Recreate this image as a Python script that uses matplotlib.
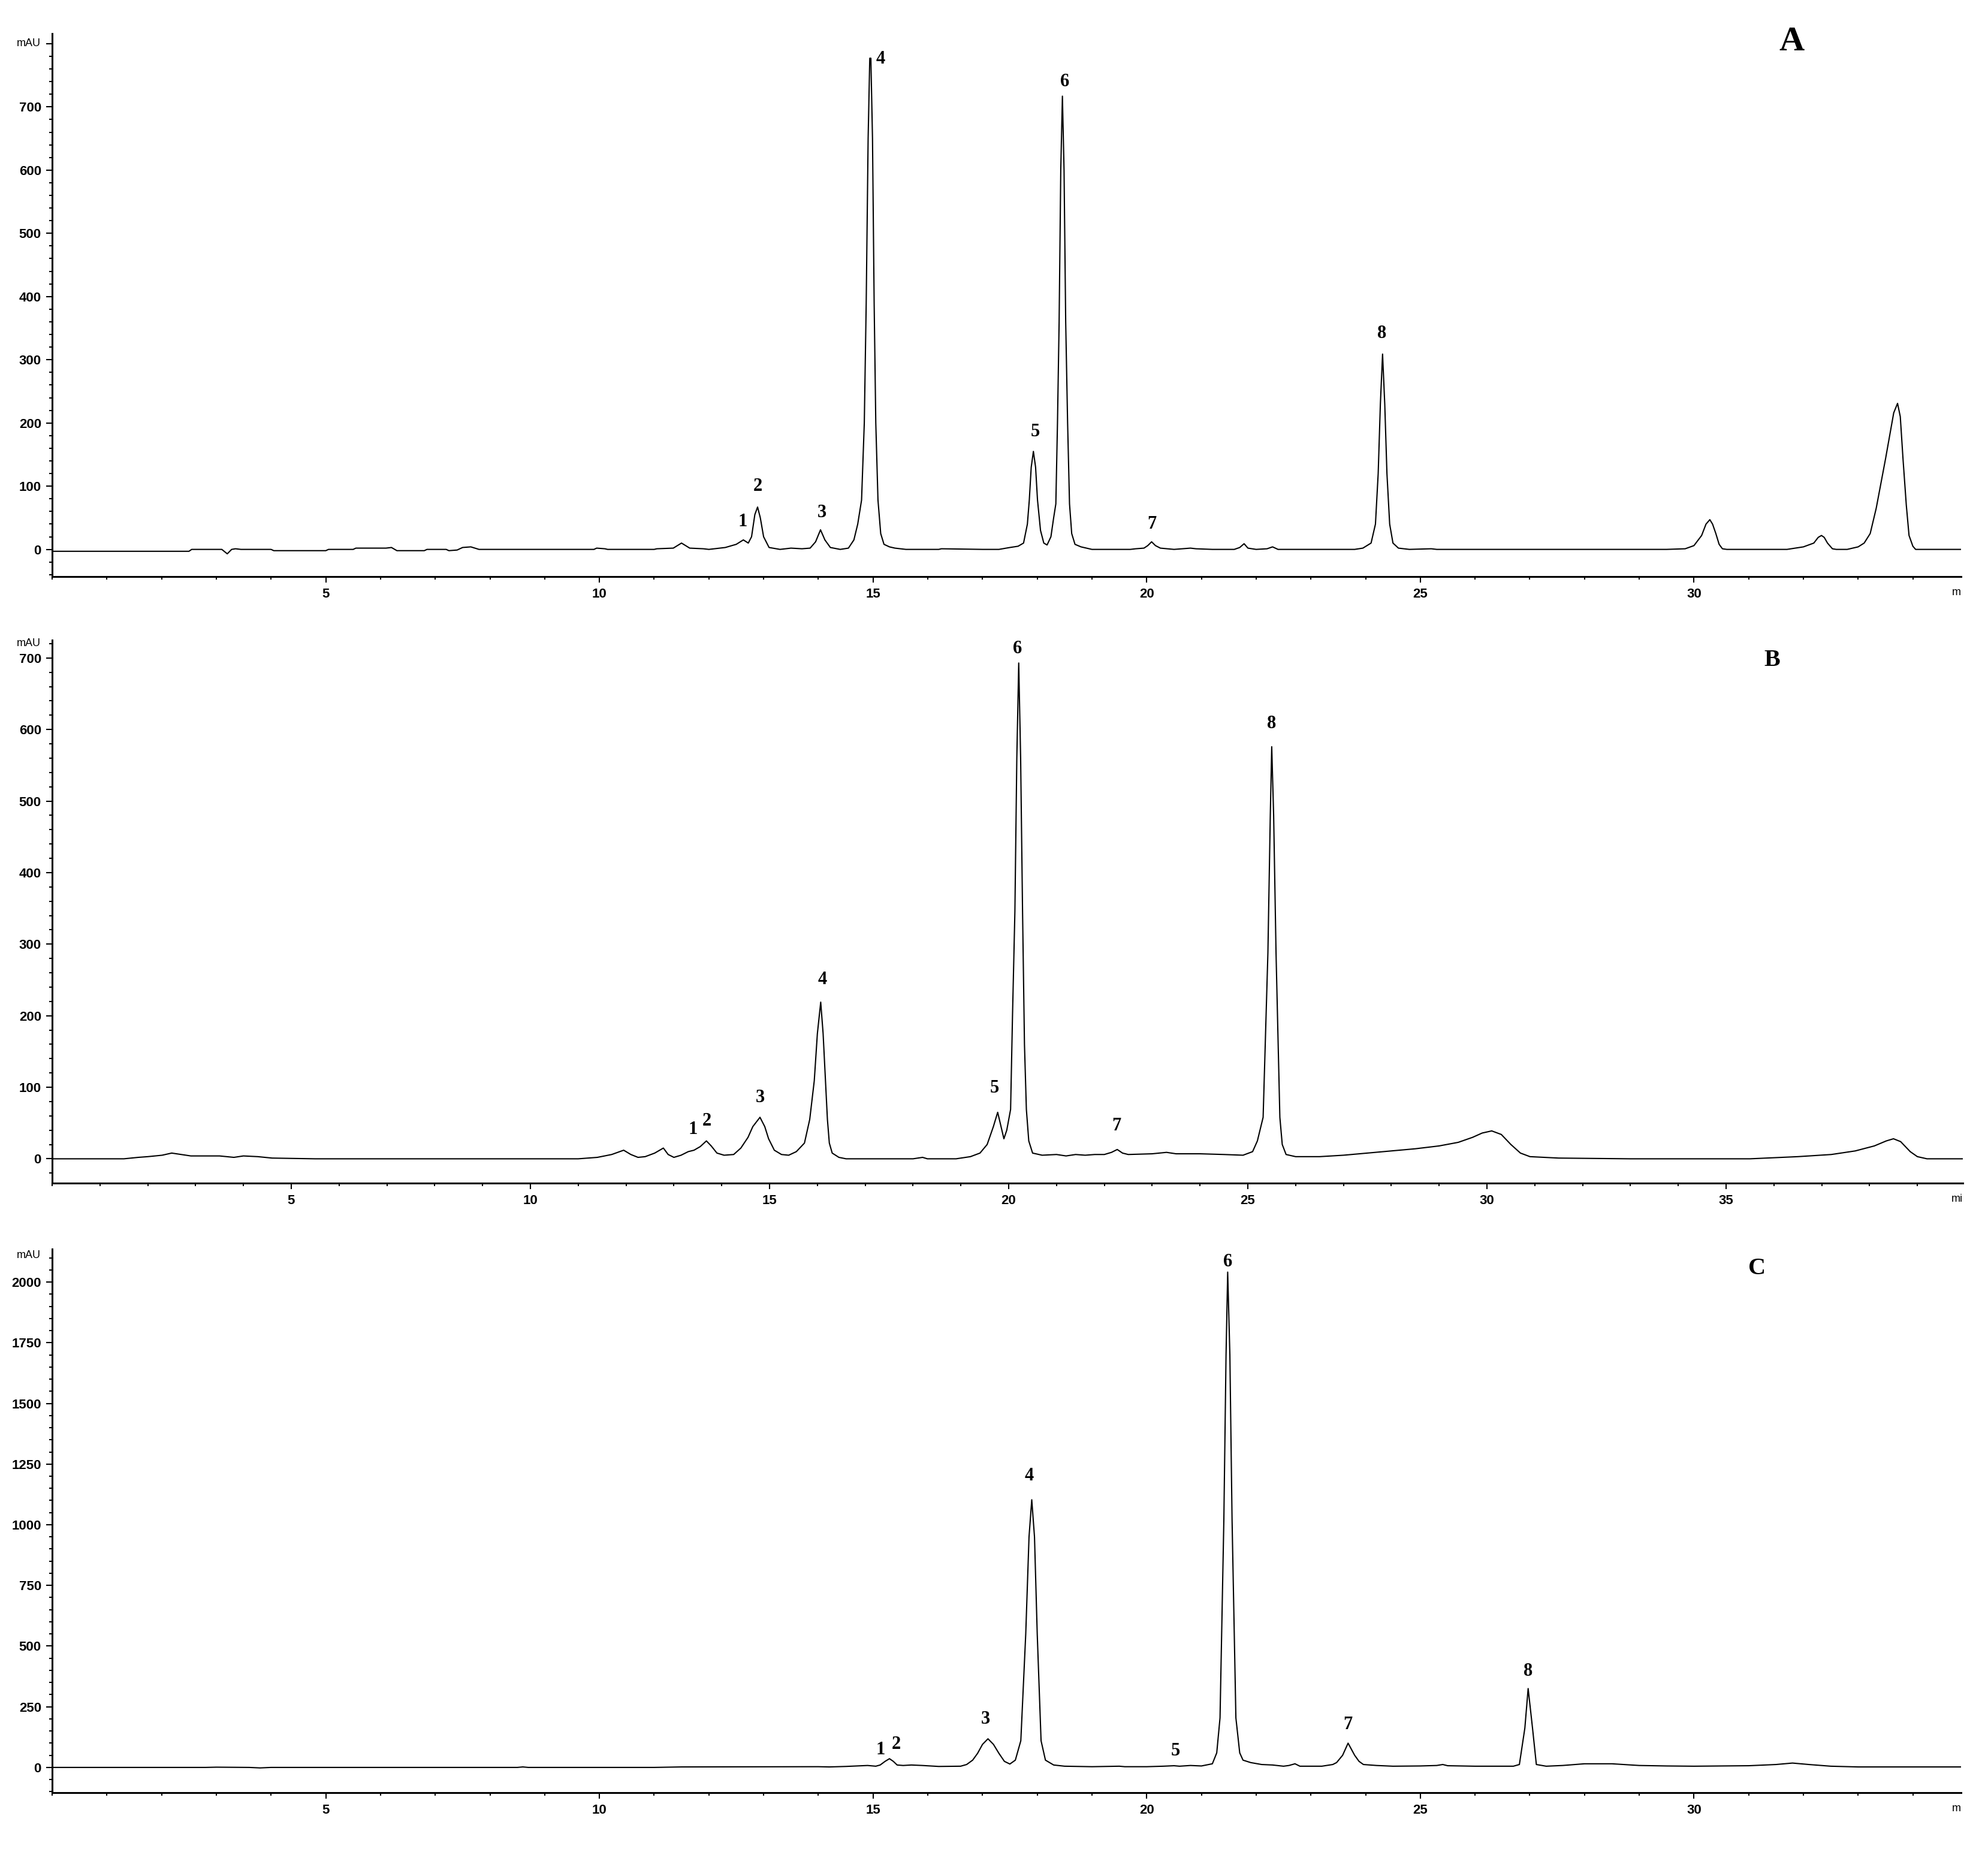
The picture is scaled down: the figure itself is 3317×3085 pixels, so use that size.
import matplotlib
matplotlib.use("Agg")
import matplotlib.pyplot as plt
from matplotlib.ticker import MultipleLocator

# chromatogram A: retention time (min) and absorbance (mAU)
time_a = [0.0, 2.5, 2.55, 3.1, 3.2, 3.28, 3.35, 3.45, 4.0, 4.05, 5.0, 5.05, 5.5, 5.55, 6.1, 6.2, 6.3,
          6.8, 6.85, 7.2, 7.25, 7.4, 7.5, 7.65, 7.8, 9.9, 9.95, 10.1, 10.15, 11.0, 11.05, 11.35, 11.5,
          11.65, 11.9, 12.0, 12.1, 12.3, 12.5, 12.63, 12.72, 12.78, 12.84, 12.89, 12.94, 13.0, 13.1,
          13.3, 13.5, 13.7, 13.85, 13.95, 14.04, 14.12, 14.22, 14.4, 14.55, 14.65, 14.72, 14.79, 14.84,
          14.875, 14.91, 14.94, 14.96, 14.99, 15.02, 15.05, 15.09, 15.14, 15.2, 15.3, 15.4, 15.6, 16.2,
          16.25, 17.0, 17.3, 17.5, 17.65, 17.75, 17.82, 17.855, 17.89, 17.93, 17.97, 18.005, 18.06,
          18.12, 18.18, 18.25, 18.3, 18.34, 18.37, 18.40, 18.43, 18.46, 18.49, 18.52, 18.555, 18.59,
          18.63, 18.69, 18.8, 19.0, 19.7, 19.8, 19.95, 20.02, 20.09, 20.16, 20.25, 20.5, 20.8, 20.9,
          21.2, 21.6, 21.7, 21.78, 21.85, 22.0, 22.2, 22.3, 22.4, 23.8, 23.95, 24.1, 24.18, 24.23,
          24.27, 24.31, 24.35, 24.39, 24.44, 24.5, 24.6, 24.8, 25.2, 25.3, 29.5, 29.84, 30.0, 30.14,
          30.22, 30.29, 30.34, 30.4, 30.46, 30.52, 30.6, 31.7, 32.0, 32.19, 32.27, 32.33, 32.38, 32.44,
          32.53, 32.6, 32.8, 33.0, 33.11, 33.22, 33.33, 33.5, 33.65, 33.72, 33.77, 33.82, 33.88, 33.93,
          34.0, 34.05, 34.88]
signal_a = [-3, -3, 0, 0, -7, 0, 1, 0, 0, -2, -2, 0, 0, 2, 2, 3, -2,
            -2, 0, 0, -2, -1, 3, 4, 0, 0, 2, 1, 0, 0, 1, 2, 10,
            2, 1, 0, 1, 3, 8, 15, 10, 20, 55, 67, 50, 20, 3,
            0, 2, 1, 2, 12, 31, 15, 3, 0, 2, 15, 40, 78, 200,
            390, 650, 777, 777, 650, 390, 200, 78, 25, 8, 4, 2, 0, 0,
            1, 0, 0, 3, 5, 10, 40, 78, 130, 155, 130, 78, 30,
            10, 7, 20, 50, 72, 200, 360, 600, 717, 600, 360, 200, 72,
            25, 8, 4, 0, 0, 1, 2, 6, 12, 6, 2, 0, 2, 1,
            0, 0, 3, 9, 2, 0, 1, 4, 0, 0, 2, 10, 40, 120,
            230, 309, 230, 120, 40, 10, 2, 0, 1, 0, 0, 1, 6, 22,
            40, 47, 40, 25, 8, 1, 0, 0, 4, 10, 19, 22, 19, 10,
            1, 0, 0, 4, 10, 25, 65, 143, 216, 231, 210, 143, 70, 22,
            5, 0, 0]

# chromatogram B
time_b = [0.0, 1.5, 1.8, 2.0, 2.3, 2.5, 2.7, 2.9, 3.5, 3.8, 4.0, 4.3, 4.6, 5.5, 11.0, 11.4, 11.7,
          11.95, 12.1, 12.25, 12.4, 12.6, 12.78, 12.88, 13.0, 13.15, 13.3, 13.42, 13.55, 13.68, 13.78,
          13.9, 14.05, 14.25, 14.4, 14.55, 14.65, 14.8, 14.9, 14.98, 15.1, 15.25, 15.4, 15.56, 15.73,
          15.84, 15.935, 16.0, 16.07, 16.12, 16.17, 16.21, 16.25, 16.31, 16.45, 16.6, 18.0, 18.2, 18.3,
          18.9, 19.2, 19.4, 19.55, 19.68, 19.77, 19.84, 19.9, 19.96, 20.04, 20.08, 20.13, 20.17, 20.21,
          20.25, 20.29, 20.33, 20.37, 20.42, 20.5, 20.7, 21.0, 21.2, 21.4, 21.6, 21.8, 22.0, 22.15,
          22.27, 22.38, 22.5, 23.0, 23.3, 23.5, 24.0, 24.5, 24.9, 25.1, 25.2, 25.32, 25.42, 25.47,
          25.5, 25.54, 25.59, 25.67, 25.72, 25.8, 26.0, 26.5, 27.0, 27.5, 28.0, 28.5, 29.0, 29.4,
          29.7, 29.9, 30.1, 30.3, 30.5, 30.7, 30.9, 31.5, 33.0, 35.5, 36.5, 37.2, 37.7, 38.1, 38.35,
          38.5, 38.65, 38.85, 39.0, 39.2, 39.95]
signal_b = [0, 0, 2, 3, 5, 8, 6, 4, 4, 2, 4, 3, 1, 0, 0, 2, 6,
            12, 6, 2, 3, 8, 15, 6, 2, 5, 10, 12, 17, 25, 18,
            8, 5, 6, 15, 30, 45, 58, 45, 28, 12, 6, 5, 10, 22,
            55, 109, 175, 219, 175, 109, 55, 22, 8, 2, 0, 0, 2, 0,
            0, 3, 8, 20, 45, 65, 45, 28, 40, 69, 200, 346, 560, 693,
            560, 346, 160, 69, 25, 8, 5, 6, 4, 6, 5, 6, 6, 9,
            13, 8, 6, 7, 9, 7, 7, 6, 5, 10, 25, 58, 288, 480,
            576, 480, 288, 58, 20, 6, 3, 3, 5, 8, 11, 14, 18, 23,
            30, 36, 39, 34, 20, 8, 3, 1, 0, 0, 3, 6, 11, 18, 25,
            28, 24, 10, 3, 0, 0]

# chromatogram C
time_c = [0.0, 2.8, 3.0, 3.6, 3.8, 4.0, 8.5, 8.6, 8.7, 11.0, 11.5, 14.0, 14.2, 14.5, 14.7, 14.9,
          15.05, 15.13, 15.22, 15.3, 15.37, 15.44, 15.55, 15.7, 15.9, 16.2, 16.6, 16.71, 16.82, 16.91,
          17.0, 17.1, 17.2, 17.3, 17.4, 17.5, 17.6, 17.7, 17.79, 17.85, 17.9, 17.95, 18.0, 18.07,
          18.15, 18.3, 18.5, 19.0, 19.5, 19.6, 20.0, 20.3, 20.5, 20.6, 20.8, 21.0, 21.2, 21.28, 21.34,
          21.41, 21.45, 21.48, 21.52, 21.56, 21.63, 21.7, 21.76, 21.9, 22.1, 22.3, 22.5, 22.6, 22.71,
          22.8, 23.2, 23.4, 23.47, 23.58, 23.68, 23.8, 23.88, 23.96, 24.2, 24.5, 25.0, 25.3, 25.41,
          25.5, 26.0, 26.7, 26.81, 26.91, 26.97, 27.05, 27.12, 27.3, 27.6, 28.0, 28.5, 29.0, 29.5,
          30.0, 31.0, 31.5, 31.8, 32.1, 32.5, 33.0, 34.88]
signal_c = [0, 0, 1, 0, -2, 0, 0, 2, 0, 0, 2, 3, 2, 4, 6, 8,
            5, 10, 25, 36, 25, 10, 8, 10, 8, 4, 5, 12, 30, 58,
            95, 118, 95, 58, 25, 14, 30, 110, 550, 950, 1103, 950, 550, 110,
            30, 10, 5, 3, 5, 3, 3, 5, 7, 5, 8, 6, 15, 60, 204,
            1020, 1700, 2041, 1700, 1020, 204, 60, 30, 20, 12, 10, 5, 8, 15,
            5, 5, 12, 20, 50, 100, 50, 25, 12, 8, 5, 6, 8, 12,
            7, 5, 5, 12, 162, 325, 162, 12, 5, 8, 15, 15, 8, 6,
            5, 7, 12, 18, 12, 5, 2, 2]

peak_names = ["1", "2", "3", "4", "5", "6", "7", "8"]
label_x_a = [12.62, 12.89, 14.07, 15.14, 17.96, 18.50, 20.09, 24.30]
label_y_a = [44, 100, 58, 776, 186, 740, 40, 341]
label_x_b = [13.40, 13.69, 14.80, 16.10, 19.70, 20.18, 22.25, 25.50]
label_y_b = [41, 53, 85, 250, 99, 713, 46, 608]
label_x_c = [15.14, 15.42, 17.06, 17.85, 20.53, 21.48, 23.68, 26.97]
label_y_c = [73, 94, 198, 1200, 68, 2082, 177, 397]

W, H = 3317, 3085
fig = plt.figure(figsize=(W / 100, H / 100), dpi=100)
fig.patch.set_facecolor("white")

sans = ["Liberation Sans", "DejaVu Sans"]
serif = ["Liberation Serif", "DejaVu Serif"]


def panel(rect, t, s, xmax, ylim, ymajor, ytop_label, yminor, xmajor_max, mau_y, lx, ly, cut):
    ax = fig.add_axes(rect)
    ax.plot(t, s, color="black", lw=1.5)
    ax.set_xlim(0, xmax)
    ax.set_ylim(*ylim)
    for side in ("top", "right"):
        ax.spines[side].set_visible(False)
    for side in ("left", "bottom"):
        ax.spines[side].set_linewidth(2.2)
    yt = list(range(0, int(ylim[1]) + 1, ymajor))
    ax.set_yticks(yt)
    ax.set_yticklabels([str(v) if v <= ytop_label else "" for v in yt])
    ax.yaxis.set_minor_locator(MultipleLocator(yminor))
    xt = list(range(5, xmajor_max + 1, 5))
    ax.set_xticks(xt)
    ax.set_xticklabels([str(v) for v in xt])
    ax.xaxis.set_minor_locator(MultipleLocator(1))
    ax.tick_params(axis="both", which="major", length=7, width=1.5, direction="out")
    ax.tick_params(axis="both", which="minor", length=3.3, width=1.5, direction="out")
    ax.tick_params(axis="y", pad=6)
    ax.tick_params(axis="x", pad=7)
    for lbl in ax.get_xticklabels() + ax.get_yticklabels():
        lbl.set_fontfamily(sans)
        lbl.set_fontweight("bold")
        lbl.set_fontsize(16)
    ax.annotate("mAU", xy=(0, mau_y), xycoords=("axes fraction", "data"),
                xytext=(-14, 0), textcoords="offset points", ha="right", va="center",
                fontsize=13, family=sans)
    ax.annotate(cut, xy=(1, 0), xycoords="axes fraction", xytext=(0, -19),
                textcoords="offset points", ha="right", va="center", fontsize=13, family=sans)
    for name, x, y in zip(peak_names, lx, ly):
        ax.text(x, y, name, ha="center", va="center", fontsize=22,
                fontweight="bold", family=serif)
    return ax


panel([87 / W, 1 - 962 / H, (3272 - 87) / W, (962 - 56) / H], time_a, signal_a, 34.88,
      (-43, 816), 100, 700, 20, 30, 800, label_x_a, label_y_a, "m")
panel([87 / W, 1 - 1974 / H, (3275 - 87) / W, (1974 - 1068) / H], time_b, signal_b, 39.95,
      (-34, 725), 100, 700, 20, 35, 720, label_x_b, label_y_b, "mi")
panel([87 / W, 1 - 2991 / H, (3272 - 87) / W, (2991 - 2084) / H], time_c, signal_c, 34.88,
      (-104, 2136), 250, 2000, 50, 30, 2110, label_x_c, label_y_c, "m")

fig.text(2989 / W, 1 - 70 / H, "A", ha="center", va="center", fontsize=42,
         fontweight="bold", family=serif)
fig.text(2957 / W, 1 - 1102 / H, "B", ha="center", va="center", fontsize=29,
         fontweight="bold", family=serif)
fig.text(2932 / W, 1 - 2117 / H, "C", ha="center", va="center", fontsize=29,
         fontweight="bold", family=serif)

fig.savefig("out.png", dpi=100, facecolor="white")
